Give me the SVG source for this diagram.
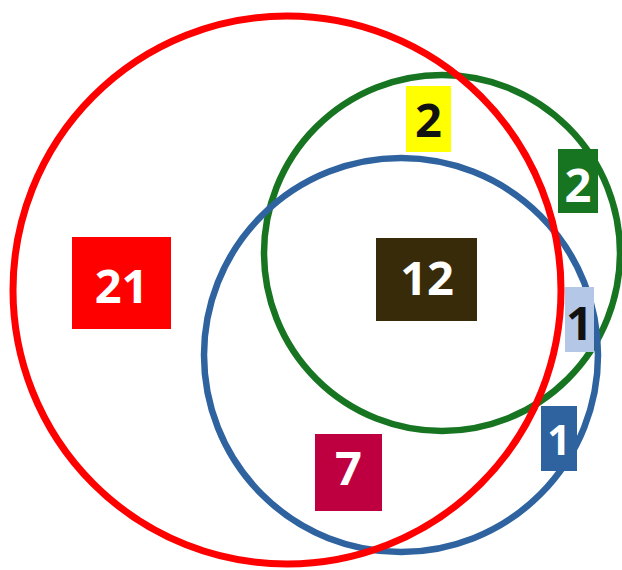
<svg xmlns="http://www.w3.org/2000/svg" width="622" height="570" viewBox="0 0 622 570">
<style>
.ring{fill:none}
.lbl{font-family:"Open Sans","Liberation Sans",sans-serif;font-weight:bold;font-size:47px;text-anchor:middle}
.w{fill:#ffffff}
.k{fill:#111111}
</style>
<rect width="622" height="570" fill="#ffffff"/>
<g id="sets">
<g id="set-green"><circle class="ring" cx="442" cy="253" r="178" stroke="#177522" stroke-width="6.5"/></g>
<g id="set-blue"><circle class="ring" cx="401" cy="355" r="197" stroke="#2e63a0" stroke-width="6.5"/></g>
<g id="set-red"><circle class="ring" cx="287" cy="290" r="274" stroke="#ff0000" stroke-width="7"/></g>
</g>
<g id="n21"><rect x="72" y="237" width="99" height="92" fill="#ff0000"/><text class="lbl w" x="121.5" y="303">21</text></g>
<g id="n12"><rect x="376" y="238" width="101" height="83" fill="#382b09"/><text class="lbl w" x="427" y="295">12</text></g>
<g id="n2y"><rect x="406" y="86" width="45" height="66" fill="#ffff00"/><text class="lbl k" x="428.5" y="137">2</text></g>
<g id="n2g"><rect x="558" y="149" width="40" height="64" fill="#177522"/><text class="lbl w" x="578" y="202">2</text></g>
<g id="n1lb"><rect x="565" y="287" width="29" height="65" fill="#b4c7e7"/><text class="lbl k" x="579.5" y="340">1</text></g>
<g id="n1b"><rect x="541" y="406" width="36" height="65" fill="#2e63a0"/><text class="lbl w" x="559" y="455" style="font-size:41px">1</text></g>
<g id="n7"><rect x="315" y="434" width="67" height="77" fill="#be0041"/><text class="lbl w" x="348.5" y="485">7</text></g>
<g id="connectors"></g>
</svg>
